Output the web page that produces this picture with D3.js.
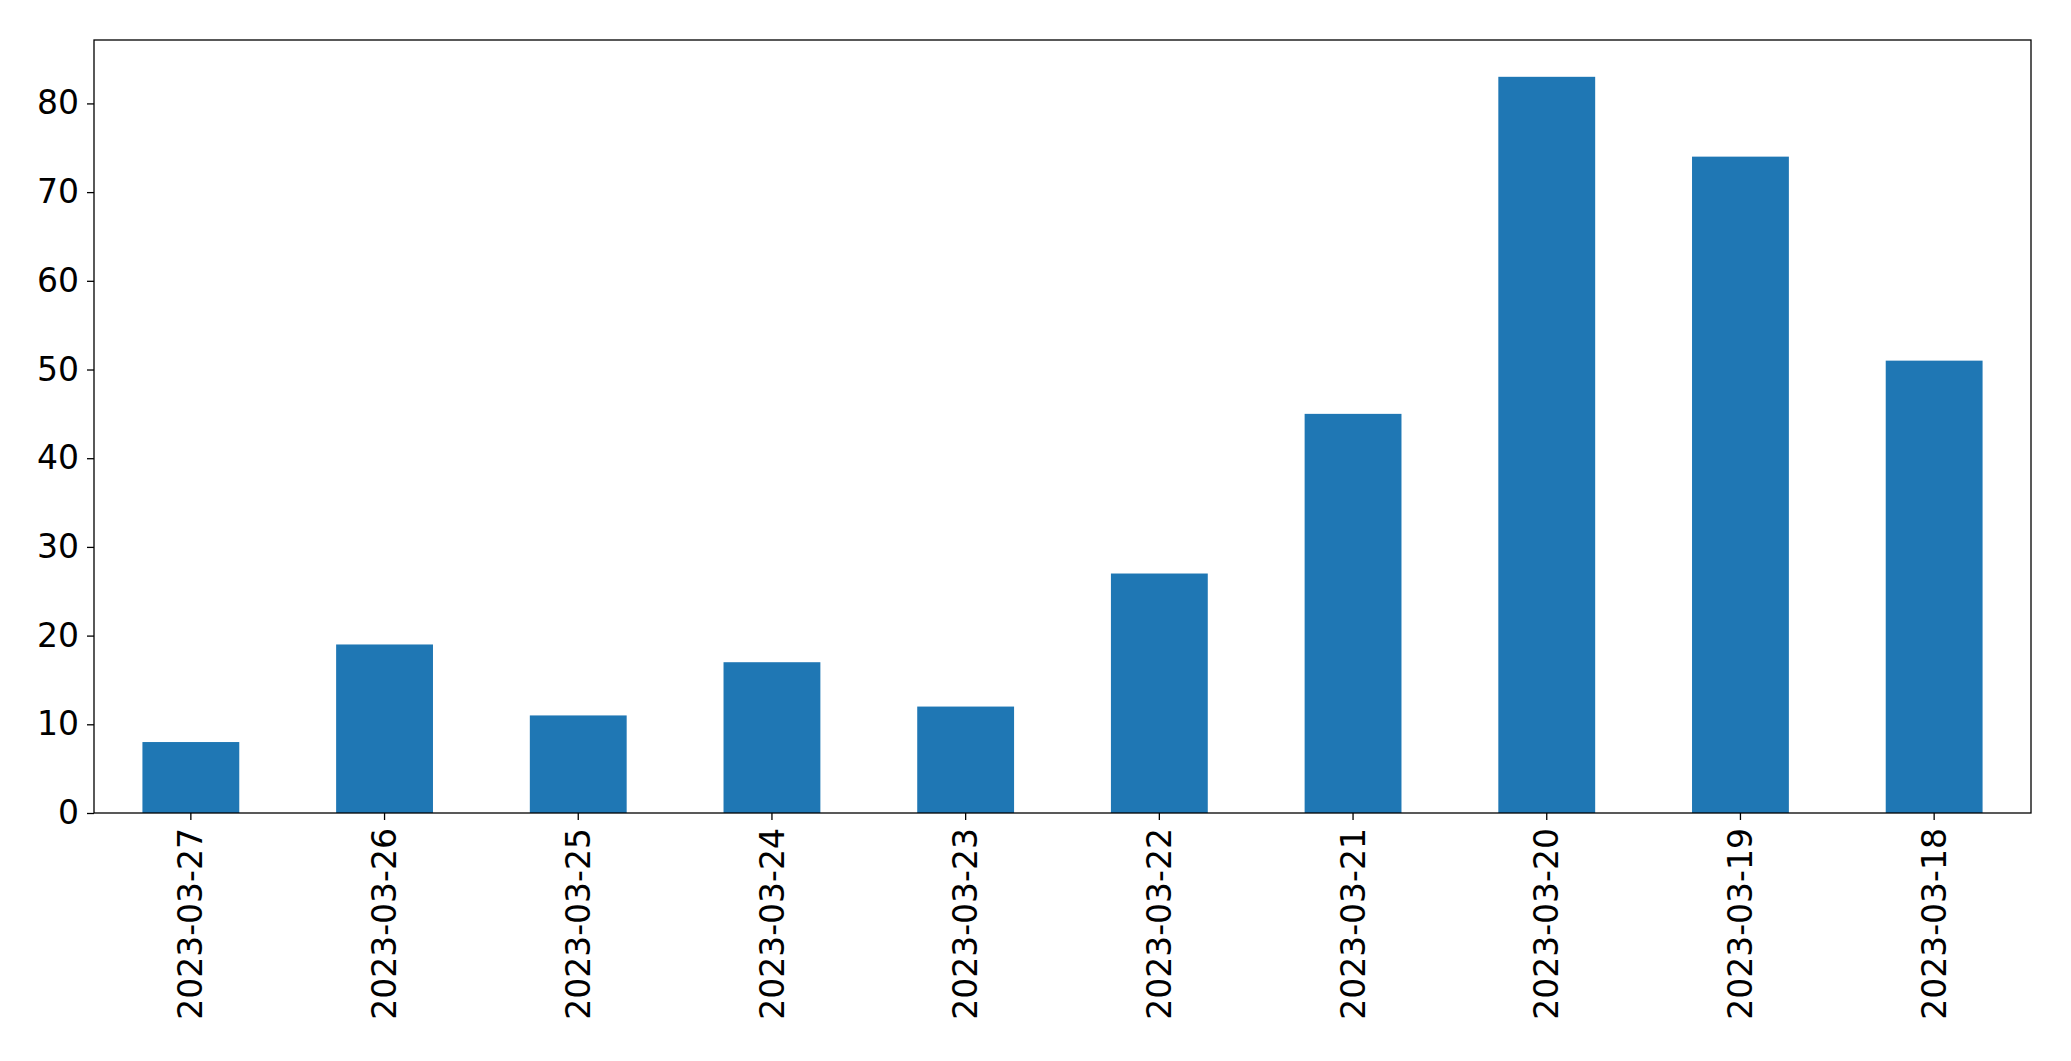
<!DOCTYPE html>
<html><head><meta charset="utf-8">
<script src="https://cdn.jsdelivr.net/npm/d3@7"></script>
<style>body{margin:0;background:#fff}</style>
</head><body>
<svg id="chart" width="2071" height="1061"></svg>
<script>
var dates = ["2023-03-27","2023-03-26","2023-03-25","2023-03-24","2023-03-23","2023-03-22","2023-03-21","2023-03-20","2023-03-19","2023-03-18"];
var counts = [8, 19, 11, 17, 12, 27, 45, 83, 74, 51];
var yTicks = [0, 10, 20, 30, 40, 50, 60, 70, 80];

var margin = {left: 94, right: 40, top: 40, bottom: 248};
var svg = d3.select('#chart');
var w = 2071, h = 1061;

var x = d3.scaleBand().domain(dates).range([margin.left, w - margin.right]).paddingInner(0.5).paddingOuter(0.25);
var y = d3.scaleLinear().domain([0, 83 * 1.05]).range([h - margin.bottom, margin.top]);

svg.selectAll('rect.bar')
    .data(counts)
    .enter()
    .append('rect')
    .attr('class', 'bar')
    .attr('x', function (d, i) { return x(dates[i]); })
    .attr('width', x.bandwidth())
    .attr('y', function (d) { return y(d); })
    .attr('height', function (d) { return y(0) - y(d); })
    .attr('fill', '#1f77b4');

// frame
svg.append('rect')
    .attr('x', margin.left).attr('y', margin.top)
    .attr('width', w - margin.right - margin.left)
    .attr('height', h - margin.bottom - margin.top)
    .attr('fill', 'none').attr('stroke', '#000').attr('stroke-width', 1.3);

var yAxis = svg.append('g')
    .attr('transform', 'translate(' + margin.left + ',0)')
    .call(d3.axisLeft(y).tickValues(yTicks).tickSize(7).tickPadding(8));
var xAxis = svg.append('g')
    .attr('transform', 'translate(0,' + (h - margin.bottom) + ')')
    .call(d3.axisBottom(x).tickSize(7).tickPadding(8));

[xAxis, yAxis].forEach(function (a) {
    a.select('.domain').remove();
    a.selectAll('line').attr('stroke', '#000').attr('stroke-width', 1.3);
    a.selectAll('text').attr('fill', '#000')
        .style('font-family', 'DejaVu Sans, sans-serif').style('font-size', '33px');
});

xAxis.selectAll('text')
    .attr('transform', 'rotate(-90)')
    .attr('text-anchor', 'end')
    .attr('x', -15).attr('y', 0).attr('dy', '0.35em');
</script>
</body></html>
